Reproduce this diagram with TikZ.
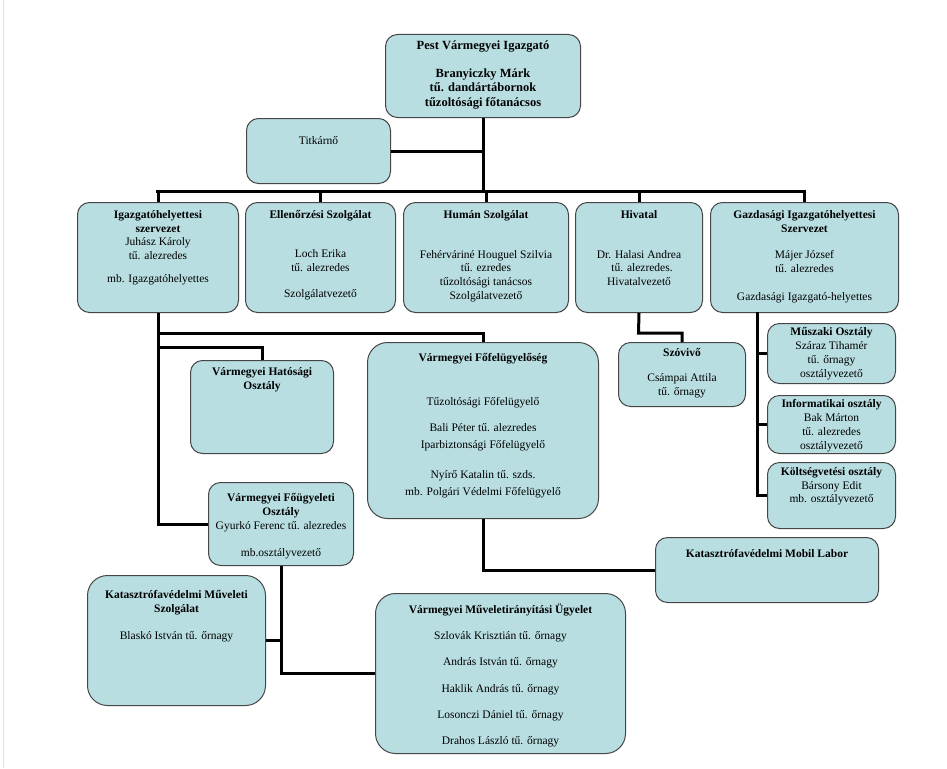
\documentclass[tikz,border=0pt]{standalone}
\usepackage{fontspec}
\setmainfont{Liberation Serif}
\definecolor{boxfill}{RGB}{184,222,226}
\definecolor{boxline}{RGB}{70,70,70}
\tikzset{
  box/.style={draw=boxline, fill=boxfill, line width=1pt, rounded corners=12pt, inner sep=0pt, anchor=north west},
  bigbox/.style={box, rounded corners=20pt},
  txt/.style={align=center, inner sep=0pt, anchor=north, font=\fontsize{11.5pt}{13.9pt}\selectfont},
  widetxt/.style={txt, font=\fontsize{11.5pt}{17pt}\selectfont},
  toptxt/.style={txt, font=\fontsize{12.5pt}{14.5pt}\selectfont},
  conn/.style={draw=black, line width=3pt}
}
\begin{document}
\begin{tikzpicture}[x=1pt,y=-1pt]
\useasboundingbox (0,0) rectangle (947,768);
\fill[white] (0,0) rectangle (947,768);
\draw[black!12, line width=1pt] (3,0) -- (3,768);

% boxes
\node[box, minimum width=195pt, minimum height=83pt] (top) at (385,34) {};
\node[box, minimum width=144pt, minimum height=65pt] (tit) at (246,118) {};
\node[box, minimum width=161pt, minimum height=110pt] (b1) at (77,202) {};
\node[box, minimum width=150pt, minimum height=110pt] (b2) at (245,202) {};
\node[box, minimum width=165pt, minimum height=110pt] (b3) at (403,202) {};
\node[box, minimum width=127pt, minimum height=110pt] (b4) at (575,202) {};
\node[box, minimum width=188pt, minimum height=110pt] (b5) at (710,202) {};
\node[box, minimum width=143pt, minimum height=93pt] (hat) at (190,360) {};
\node[bigbox, minimum width=231pt, minimum height=176pt] (fofel) at (367,342) {};
\node[box, minimum width=145pt, minimum height=83pt] (fug) at (208,482) {};
\node[bigbox, minimum width=178pt, minimum height=130pt] (kms) at (87,575) {};
\node[bigbox, minimum width=250pt, minimum height=160pt] (mvir) at (375,593) {};
\node[box, minimum width=223pt, minimum height=65pt] (mobil) at (655,537) {};
\node[box, minimum width=127pt, minimum height=64pt] (szov) at (618,342) {};
\node[box, minimum width=128pt, minimum height=60pt] (musz) at (767,323) {};
\node[box, minimum width=128pt, minimum height=58pt] (inf) at (767,395) {};
\node[box, minimum width=128pt, minimum height=66pt] (kolt) at (767,462) {};

% texts
\node[toptxt] (topt) at ([yshift=-7pt]top.north) {\textbf{Pest Vármegyei Igazgató}\\[13pt]\textbf{Branyiczky Márk}\\\textbf{tű. dandártábornok}\\\textbf{tűzoltósági főtanácsos}};
\node[txt] (titt) at ([yshift=-18pt]tit.north) {Titkárnő};
\node[txt] (b1t) at ([yshift=-8pt]b1.north) {\textbf{Igazgatóhelyettesi}\\\textbf{szervezet}\\Juhász Károly\\tű. alezredes\\[9pt]mb. Igazgatóhelyettes};
\node[txt] (b2t) at ([yshift=-8pt]b2.north) {\textbf{Ellenőrzési Szolgálat}\\[25pt]Loch Erika\\tű. alezredes\\[12pt]Szolgálatvezető};
\node[txt] (b3t) at ([yshift=-8pt]b3.north) {\textbf{Humán Szolgálat}\\[26pt]Fehérváriné Houguel Szilvia\\tű. ezredes\\tűzoltósági tanácsos\\Szolgálatvezető};
\node[txt] (b4t) at ([yshift=-8pt]b4.north) {\textbf{Hivatal}\\[26pt]Dr. Halasi Andrea\\\hspace{6pt}tű. alezredes.\\Hivatalvezető};
\node[txt] (b5t) at ([yshift=-8pt]b5.north) {\textbf{Gazdasági Igazgatóhelyettesi}\\\textbf{Szervezet}\\[13pt]Májer József\\tű. alezredes\\[14pt]Gazdasági Igazgató-helyettes};
\node[txt] (hatt) at ([yshift=-7pt]hat.north) {\textbf{Vármegyei Hatósági}\\\textbf{Osztály}};
\node[widetxt] (fofelt) at ([yshift=-11pt]fofel.north) {\textbf{Vármegyei Főfelügyelőség}\\[27pt]Tűzoltósági Főfelügyelő\\[9pt]Bali Péter tű. alezredes\hspace{8pt}\\Iparbiztonsági Főfelügyelő\\[13pt]Nyírő Katalin tű. szds.\hspace{20pt}\\mb. Polgári Védelmi Főfelügyelő};
\node[txt] (fugt) at ([yshift=-11pt]fug.north) {\textbf{Vármegyei Főügyeleti}\\\textbf{Osztály}\\Gyurkó Ferenc tű. alezredes\\[13pt]mb.osztályvezető};
\node[txt] (kmst) at ([yshift=-15pt]kms.north) {\textbf{Katasztrófavédelmi Műveleti}\\\textbf{Szolgálat}\\[13pt]Blaskó István tű. őrnagy\hspace{14pt}};
\node[txt] (mvirt) at ([yshift=-11pt]mvir.north) {\textbf{Vármegyei Műveletirányítási Ügyelet}\\[12.2pt]Szlovák Krisztián tű. őrnagy\\[12.2pt]András István tű. őrnagy\\[12.2pt]Haklik András tű. őrnagy\\[12.2pt]Losonczi Dániel tű. őrnagy\\[12.2pt]Drahos László tű. őrnagy};
\node[txt] (mobilt) at ([yshift=-12pt]mobil.north) {\textbf{Katasztrófavédelmi Mobil Labor}};
\node[txt] (szovt) at ([yshift=-6pt]szov.north) {\textbf{Szóvivő}\\[11pt]Csámpai Attila\\tű. őrnagy};
\node[txt] (muszt) at ([yshift=-4pt]musz.north) {\textbf{Műszaki Osztály}\\Száraz Tihamér\\tű. őrnagy\\osztályvezető};
\node[txt] (inft) at ([yshift=-4pt]inf.north) {\textbf{Informatikai osztály}\\Bak Márton\\tű. alezredes\\osztályvezető};
\node[txt] (koltt) at ([yshift=-5pt]kolt.north) {\textbf{Költségvetési osztály}\\Bársony Edit\\mb. osztályvezető};

% junction coordinates
\coordinate (busL) at (157.5,191);
\coordinate (busR) at (804,191);
\coordinate (j1) at (157.5,333);
\coordinate (j2) at (157.5,347);
\coordinate (j3) at (638.5,333);
\coordinate (gs) at (757,312);

% connectors
\draw[conn] (top.south) -- (top.south |- busL);
\draw[conn] (tit.east) -- (tit.east -| top.south);
\draw[conn, line cap=rect] (busL) -- (busR);
\draw[conn] (b1.north |- busL) -- (b1.north);
\draw[conn] (b2.north |- busL) -- (b2.north);
\draw[conn] (b3.north |- busL) -- (b3.north);
\draw[conn] (b4.north |- busL) -- (b4.north);
\draw[conn] (b5.north |- busL) -- (b5.north);
\draw[conn] (b1.south) |- (fug.west);
\draw[conn] (j1) -| (fofel.north);
\draw[conn] (j2) -| (hat.north);
\draw[conn] (fug.south) |- (mvir.west);
\draw[conn] (kms.east) -- (kms.east -| fug.south);
\draw[conn] (fofel.south) |- (mobil.west);
\draw[conn] (b4.south) -- (j3) -| (szov.north);
\draw[conn] (gs) |- (kolt.west);
\draw[conn] (gs |- musz.west) -- (musz.west);
\draw[conn] (gs |- inf.west) -- (inf.west);
\end{tikzpicture}
\end{document}
